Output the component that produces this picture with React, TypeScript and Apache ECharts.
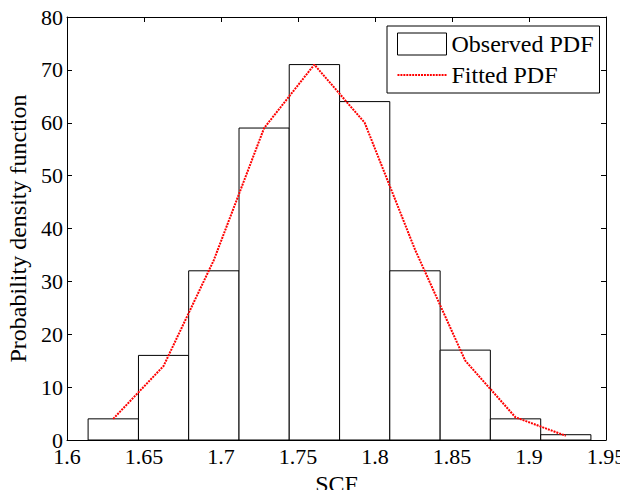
import React, { useEffect, useRef } from "react";
import * as echarts from "echarts";

const binEdges = [1.6137, 1.6464, 1.679, 1.7117, 1.7443, 1.777, 1.8096, 1.8423, 1.8749, 1.9076, 1.9402];
const observed = [4, 16, 32, 59, 71, 64, 32, 17, 4, 1];
const fittedX = [1.630, 1.6627, 1.6953, 1.728, 1.7606, 1.7933, 1.826, 1.8586, 1.8912, 1.9239];
const fitted = [4, 14, 34, 59, 71, 60, 36, 15, 4.3, 0.8];
const xTicks = [1.6, 1.65, 1.7, 1.75, 1.8, 1.85, 1.9, 1.95];

const FONT = "'Liberation Serif', 'Times New Roman', serif";

function dottedIconPath(): string {
  let d = "";
  for (let x = 0; x < 49; x += 3) {
    d += `M${x},0h2v2h-2Z`;
  }
  return "path://" + d;
}

export default function App() {
  const ref = useRef<HTMLDivElement>(null);
  useEffect(() => {
    if (!ref.current) return;
    const chart = echarts.init(ref.current, null, { renderer: "svg" });
    const histData = observed.map((v, i) => [binEdges[i], binEdges[i + 1], v]);
    const lineData = fitted.map((v, i) => [fittedX[i], v]);
    const axisCommon = {
      axisLine: { show: true, onZero: false, lineStyle: { color: "#000", width: 1 } },
      axisTick: { show: true, inside: true, length: 5, lineStyle: { color: "#000" } },
      splitLine: { show: false },
    };
    chart.setOption({
      animation: false,
      backgroundColor: "#fff",
      textStyle: { fontFamily: FONT, color: "#000" },
      grid: { left: 67, right: 22, top: 17, bottom: 58, containLabel: false, outerBoundsMode: "none" },
      legend: {
        left: 387,
        top: 26,
        orient: "vertical",
        backgroundColor: "#fff",
        borderColor: "#000",
        borderWidth: 1,
        borderRadius: 0,
        padding: [6, 6, 6, 10],
        itemGap: 7,
        itemWidth: 49,
        itemHeight: 22,
        symbolKeepAspect: true,
        textStyle: { fontFamily: FONT, fontSize: 24, color: "#000", lineHeight: 22 },
        data: [
          {
            name: "Observed PDF",
            icon: "rect",
            itemStyle: { color: "#fff", borderColor: "#000", borderWidth: 1 },
          },
          {
            name: "Fitted PDF",
            icon: dottedIconPath(),
            itemStyle: { color: "#ff0000", borderWidth: 0 },
          },
        ],
      },
      xAxis: [
        {
          type: "value",
          min: 1.6,
          max: 1.95,
          interval: 0.05,
          position: "bottom",
          name: "SCF",
          nameLocation: "middle",
          nameGap: 31,
          nameTextStyle: { fontFamily: FONT, fontSize: 24, color: "#000" },
          axisLabel: {
            fontFamily: FONT,
            fontSize: 22,
            color: "#000",
            margin: 5,
            formatter: (v: number) => {
              const t = xTicks.find((x) => Math.abs(x - v) < 1e-6);
              return t !== undefined ? String(t) : "";
            },
          },
          ...axisCommon,
        },
        {
          type: "value",
          min: 1.6,
          max: 1.95,
          interval: 0.05,
          position: "top",
          axisLabel: { show: false },
          ...axisCommon,
        },
      ],
      yAxis: [
        {
          type: "value",
          min: 0,
          max: 80,
          interval: 10,
          position: "left",
          name: "Probability density function",
          nameLocation: "middle",
          nameGap: 33,
          nameTextStyle: { fontFamily: FONT, fontSize: 24, color: "#000" },
          axisLabel: { fontFamily: FONT, fontSize: 22, color: "#000", margin: 4 },
          ...axisCommon,
        },
        {
          type: "value",
          min: 0,
          max: 80,
          interval: 10,
          position: "right",
          axisLabel: { show: false },
          ...axisCommon,
        },
      ],
      series: [
        {
          name: "Observed PDF",
          type: "custom",
          xAxisIndex: 0,
          yAxisIndex: 0,
          z: 2,
          itemStyle: { color: "#fff", borderColor: "#000", borderWidth: 1 },
          renderItem: (params: any, api: any) => {
            const lo = api.value(0);
            const hi = api.value(1);
            const v = api.value(2);
            const p0 = api.coord([lo, v]);
            const p1 = api.coord([hi, 0]);
            return {
              type: "rect",
              shape: { x: p0[0], y: p0[1], width: p1[0] - p0[0], height: p1[1] - p0[1] },
              style: { fill: "#fff", stroke: "#000", lineWidth: 1 },
            };
          },
          encode: { x: [0, 1], y: 2 },
          data: histData,
        },
        {
          name: "Fitted PDF",
          type: "line",
          xAxisIndex: 0,
          yAxisIndex: 0,
          z: 3,
          symbol: "none",
          color: "#ff0000",
          lineStyle: { color: "#ff0000", width: 2, type: [2, 1] },
          data: lineData,
        },
      ],
    });
    return () => chart.dispose();
  }, []);
  return <div ref={ref} style={{ width: 628, height: 498, margin: -8 }} />;
}
